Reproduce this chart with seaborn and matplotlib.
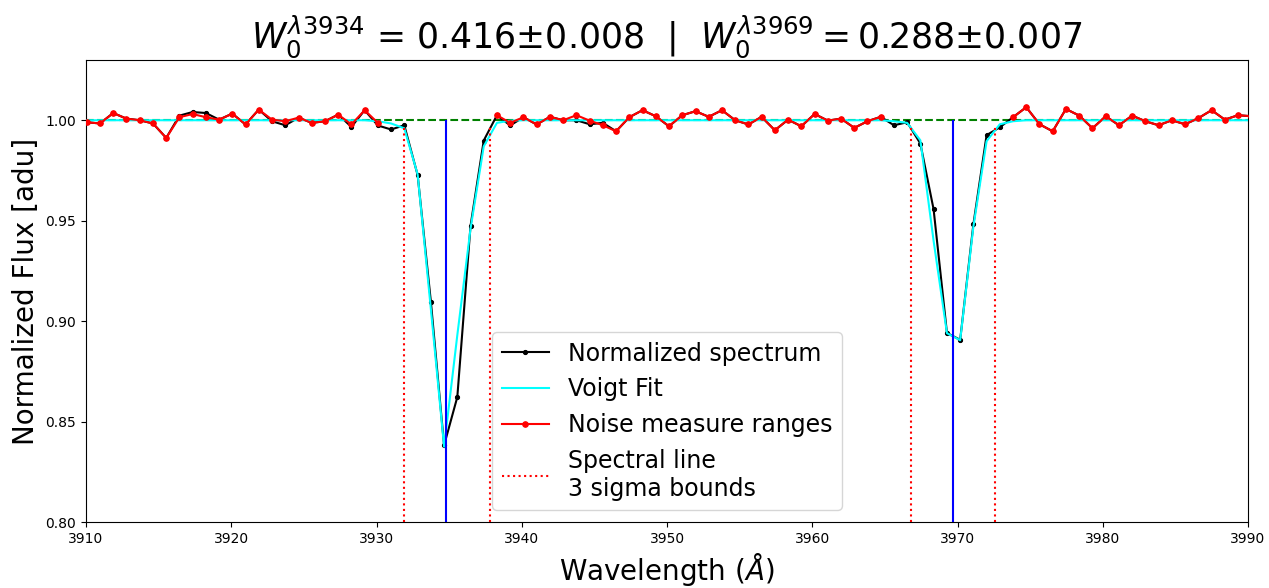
import matplotlib
matplotlib.use("Agg")
import matplotlib.pyplot as plt
import seaborn as sns

# Wavelength grid (Angstrom)
wavelength = [
    3910.05, 3910.96, 3911.87, 3912.78, 3913.69, 3914.61, 3915.52, 3916.43, 3917.34, 3918.25,
    3919.16, 3920.07, 3920.98, 3921.89, 3922.80, 3923.72, 3924.63, 3925.54, 3926.45, 3927.36,
    3928.27, 3929.18, 3930.09, 3931.00, 3931.91, 3932.83, 3933.74, 3934.65, 3935.56, 3936.47,
    3937.38, 3938.29, 3939.20, 3940.11, 3941.02, 3941.94, 3942.85, 3943.76, 3944.67, 3945.58,
    3946.49, 3947.40, 3948.31, 3949.22, 3950.13, 3951.05, 3951.96, 3952.87, 3953.78, 3954.69,
    3955.60, 3956.51, 3957.42, 3958.33, 3959.24, 3960.16, 3961.07, 3961.98, 3962.89, 3963.80,
    3964.71, 3965.62, 3966.53, 3967.44, 3968.35, 3969.27, 3970.18, 3971.09, 3972.00, 3972.91,
    3973.82, 3974.73, 3975.64, 3976.55, 3977.46, 3978.38, 3979.29, 3980.20, 3981.11, 3982.02,
    3982.93, 3983.84, 3984.75, 3985.66, 3986.57, 3987.49, 3988.40, 3989.31, 3990.22,
]

# Normalized spectrum
flux = [
    0.9990, 0.9984, 1.0036, 1.0008, 1.0000, 0.9984, 0.9912, 1.0023, 1.0041, 1.0036,
    1.0003, 1.0033, 0.9979, 1.0053, 0.9995, 0.9975, 1.0013, 0.9987, 0.9995, 1.0028,
    0.9967, 1.0050, 0.9974, 0.9954, 0.9975, 0.9727, 0.9097, 0.8382, 0.8622, 0.9474,
    0.9899, 1.0025, 0.9974, 1.0015, 0.9979, 1.0017, 1.0000, 1.0000, 0.9980, 0.9987,
    0.9945, 1.0015, 1.0050, 1.0020, 0.9970, 1.0025, 1.0045, 1.0017, 1.0050, 1.0000,
    0.9979, 1.0017, 0.9950, 1.0003, 0.9970, 1.0031, 0.9998, 1.0008, 0.9962, 0.9995,
    1.0017, 0.9975, 0.9990, 0.9884, 0.9557, 0.8941, 0.8907, 0.9482, 0.9926, 0.9965,
    1.0015, 1.0065, 0.9980, 0.9945, 1.0056, 1.0023, 0.9960, 1.0020, 0.9975, 1.0023,
    0.9995, 0.9975, 1.0000, 0.9980, 1.0010, 1.0050, 1.0003, 1.0025, 1.0020,
]

# Voigt profile fit
voigt = [
    1.0000, 1.0000, 1.0000, 1.0000, 1.0000, 1.0000, 1.0000, 1.0000, 1.0000, 1.0000,
    1.0000, 1.0000, 1.0000, 1.0000, 1.0000, 1.0000, 1.0000, 1.0000, 1.0000, 1.0000,
    1.0000, 1.0000, 0.9995, 0.9984, 0.9960, 0.9730, 0.9060, 0.8375, 0.8930, 0.9460,
    0.9870, 0.9987, 0.9998, 1.0000, 1.0000, 1.0000, 1.0000, 1.0000, 1.0000, 1.0000,
    1.0000, 1.0000, 1.0000, 1.0000, 1.0000, 1.0000, 1.0000, 1.0000, 1.0000, 1.0000,
    1.0000, 1.0000, 1.0000, 1.0000, 1.0000, 1.0000, 1.0000, 1.0000, 1.0000, 1.0000,
    1.0000, 0.9995, 0.9987, 0.9900, 0.9400, 0.8940, 0.8905, 0.9470, 0.9896, 0.9980,
    0.9995, 1.0000, 1.0000, 1.0000, 1.0000, 1.0000, 1.0000, 1.0000, 1.0000, 1.0000,
    1.0000, 1.0000, 1.0000, 1.0000, 1.0000, 1.0000, 1.0000, 1.0000, 1.0000,
]

# Noise measure ranges (three continuum windows)
noise_wave_1 = wavelength[0:23]
noise_flux_1 = [
    0.9990, 0.9984, 1.0036, 1.0008, 1.0000, 0.9984, 0.9912, 1.0015, 1.0031, 1.0015,
    1.0003, 1.0033, 0.9979, 1.0053, 1.0003, 0.9995, 1.0013, 0.9987, 0.9995, 1.0028,
    0.9979, 1.0050, 0.9987,
]
noise_wave_2 = wavelength[31:61]
noise_flux_2 = [
    1.0025, 0.9987, 1.0015, 0.9979, 1.0017, 1.0000, 1.0025, 0.9998, 0.9975, 0.9945,
    1.0015, 1.0050, 1.0020, 0.9970, 1.0025, 1.0045, 1.0017, 1.0050, 1.0000, 0.9979,
    1.0017, 0.9950, 1.0003, 0.9970, 1.0031, 0.9998, 1.0008, 0.9962, 0.9995, 1.0017,
]
noise_wave_3 = wavelength[70:89]
noise_flux_3 = [
    1.0015, 1.0065, 0.9980, 0.9945, 1.0056, 1.0023, 0.9960, 1.0020, 0.9975, 1.0023,
    0.9995, 0.9975, 1.0000, 0.9980, 1.0010, 1.0050, 1.0003, 1.0025, 1.0020,
]

# Line centres and 3 sigma bounds
line_centres = [3934.8, 3969.7]
sigma_bounds = [3931.9, 3937.8, 3966.8, 3972.6]
bound_top = 0.9975

title = (r"$W_0^{\lambda3934}$ = 0.416±0.008  |  "
         r"$W_0^{\lambda3969}=$0.288±0.007")

fig = plt.figure(figsize=(12.69, 5.88), dpi=100)
ax = fig.add_axes([0.0678, 0.1122, 0.9157, 0.7858])

ax.axhline(1.0, color="green", linestyle="--", linewidth=1.5, zorder=1)

sns.lineplot(x=wavelength, y=flux, ax=ax, color="black", marker=".",
             markersize=6, markeredgecolor="black", linewidth=1.5,
             sort=False, estimator=None, label="Normalized spectrum", zorder=2)
sns.lineplot(x=wavelength, y=voigt, ax=ax, color="cyan", linewidth=1.5,
             sort=False, estimator=None, label="Voigt Fit", zorder=3)

segments = [(noise_wave_1, noise_flux_1), (noise_wave_2, noise_flux_2),
            (noise_wave_3, noise_flux_3)]
for i, (wx, wy) in enumerate(segments):
    sns.lineplot(x=wx, y=wy, ax=ax, color="red", marker=".", markersize=8,
                 markeredgecolor="red", linewidth=1.5, sort=False, estimator=None,
                 label="Noise measure ranges" if i == 0 else "_nolegend_", zorder=4)

ax.vlines(line_centres, 0.8, 1.0, colors="blue", linewidth=1.5, zorder=5)
ax.vlines(sigma_bounds, 0.8, bound_top, colors="red", linestyles=":",
          linewidth=1.5, label="Spectral line\n3 sigma bounds", zorder=5)

ax.set_xlim(3910, 3990)
ax.set_ylim(0.80, 1.03)
ax.set_xticks(range(3910, 3991, 10))
ax.set_yticks([0.80, 0.85, 0.90, 0.95, 1.00])
ax.set_title(title, fontsize=25)
ax.set_xlabel(r"Wavelength ($\AA$)", fontsize=20)
ax.set_ylabel("Normalized Flux [adu]", fontsize=20)
ax.legend(loc="lower center", fontsize=17)

fig.savefig("out.png", dpi=100)
plt.close(fig)
